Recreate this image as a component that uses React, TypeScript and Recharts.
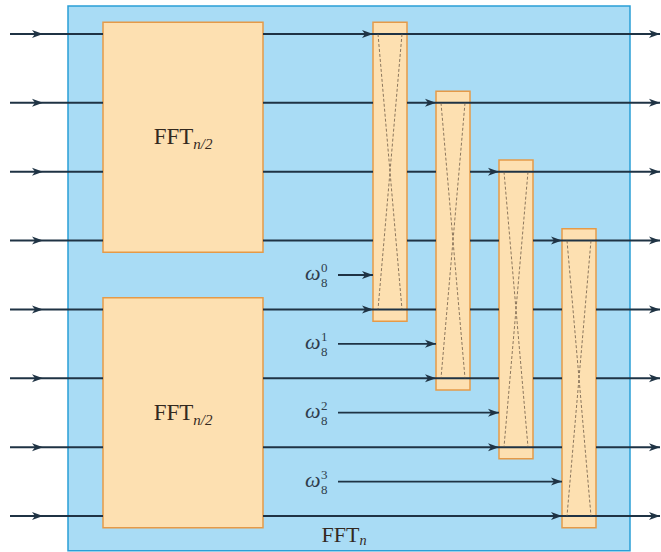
import {
  ComposedChart,
  ReferenceArea,
  ReferenceLine,
  Scatter,
  XAxis,
  YAxis,
} from "recharts";

// structure of the 8-point FFT diagram (rows are wire indices)
const rows = [0, 1, 2, 3, 4, 5, 6, 7];
const halfBlocks = [
  { first: 0, last: 3, name: "FFT", sub: "n/2" },
  { first: 4, last: 7, name: "FFT", sub: "n/2" },
];
const butterflies = [
  { top: 0, bottom: 4 },
  { top: 1, bottom: 5 },
  { top: 2, bottom: 6 },
  { top: 3, bottom: 7 },
];
const twiddlePowers = ["0", "1", "2", "3"];
const twiddleBase = "8";
const outerName = "FFT";
const outerSub = "n";

// layout (x in pixels-ish, y in row units)
const W = 661;
const H = 552;
const Y_DOMAIN: [number, number] = [-0.494, 7.523];
const FRAME = { x1: 68, x2: 630, y1: -0.407, y2: 7.505 };
const BLOCK_X = [103, 263];
const PAD = 0.17;
const BFLY_X0 = 373;
const BFLY_STEP = 63;
const BFLY_W = 34;
const IN_X = [10, 103];
const IN_TIP = 43;
const OUT_X = 660;
const TW_X = 338;
const TW_LABEL_X = 318;

const WIRE = "#1f3344";
const BLUE = "#a9dcf5";
const BLUE_EDGE = "#2a9fd6";
const PEACH = "#fde0b1";
const PEACH_EDGE = "#e59a48";

const bx = (i: number) => BFLY_X0 + i * BFLY_STEP;

// wire segments after the half-size blocks, skipping boxes they run behind
const segments: { x1: number; x2: number; y: number }[] = [];
rows.forEach((r) => {
  let start = BLOCK_X[1];
  butterflies.forEach((b, i) => {
    if (r > b.top && r < b.bottom) {
      segments.push({ x1: start, x2: bx(i), y: r });
      start = bx(i) + BFLY_W;
    }
  });
  segments.push({ x1: start, x2: OUT_X, y: r });
});

const arrowTips = [
  ...rows.map((r) => ({ x: IN_TIP, y: r })),
  ...rows.map((r) => ({ x: OUT_X, y: r })),
  ...butterflies.flatMap((b, i) => [
    { x: bx(i), y: b.top },
    { x: bx(i), y: b.bottom },
    { x: bx(i), y: b.bottom - 0.5 },
  ]),
];

const blockLabels = halfBlocks.map((h) => ({
  x: (BLOCK_X[0] + BLOCK_X[1]) / 2,
  y: (h.first + h.last) / 2,
  name: h.name,
  sub: h.sub,
  size: 23,
  drop: 5,
}));

const twiddleLabels = butterflies.map((b, i) => ({
  x: TW_LABEL_X,
  y: b.bottom - 0.5,
  power: twiddlePowers[i],
}));

const outerLabel = [
  { x: 344, y: 7.28, name: outerName, sub: outerSub, size: 22, drop: 3 },
];

const SERIF = "'Liberation Serif', 'DejaVu Serif', serif";

function Arrowhead({ cx, cy }: { cx: number; cy: number }) {
  return (
    <path
      d={`M${cx},${cy} L${cx - 11},${cy - 4} L${cx - 8},${cy} L${cx - 11},${cy + 4} Z`}
      fill={WIRE}
    />
  );
}

function BlockLabel({ cx, cy, payload }: any) {
  return (
    <text
      x={cx}
      y={cy + 7}
      textAnchor="middle"
      style={{ fontFamily: SERIF, fontSize: payload.size }}
      fill="#33291f"
    >
      {payload.name}
      <tspan
        style={{ fontSize: payload.size * 0.65, fontStyle: "italic" }}
        dy={payload.drop}
      >
        {payload.sub}
      </tspan>
    </text>
  );
}

function TwiddleLabel({ cx, cy, payload }: any) {
  return (
    <g style={{ fontFamily: SERIF }} fill="#2f3c4c">
      <text x={cx - 13} y={cy + 5} style={{ fontSize: 22, fontStyle: "italic" }}>
        ω
      </text>
      <text x={cx + 3} y={cy - 3} style={{ fontSize: 13 }}>
        {payload.power}
      </text>
      <text x={cx + 3} y={cy + 12} style={{ fontSize: 13 }}>
        {twiddleBase}
      </text>
    </g>
  );
}

export default function App() {
  return (
    <div style={{ position: "absolute", left: 0, top: 0, background: "#fff" }}>
      <ComposedChart
        width={W}
        height={H}
        margin={{ top: 0, right: 0, bottom: 0, left: 0 }}
      >
        <XAxis type="number" dataKey="x" domain={[0, W]} hide allowDataOverflow />
        <YAxis
          type="number"
          dataKey="y"
          domain={Y_DOMAIN}
          reversed
          hide
          allowDataOverflow
        />
        <ReferenceArea
          x1={FRAME.x1}
          x2={FRAME.x2}
          y1={FRAME.y1}
          y2={FRAME.y2}
          fill={BLUE}
          fillOpacity={1}
          stroke={BLUE_EDGE}
          strokeWidth={1.5}
          ifOverflow="visible"
          zIndex={10}
        />
        {halfBlocks.map((h, i) => (
          <ReferenceArea
            key={`blk${i}`}
            x1={BLOCK_X[0]}
            x2={BLOCK_X[1]}
            y1={h.first - PAD}
            y2={h.last + PAD}
            fill={PEACH}
            fillOpacity={1}
            stroke={PEACH_EDGE}
            strokeWidth={1.5}
            zIndex={20}
          />
        ))}
        {butterflies.map((b, i) => (
          <ReferenceArea
            key={`bf${i}`}
            x1={bx(i)}
            x2={bx(i) + BFLY_W}
            y1={b.top - PAD}
            y2={b.bottom + PAD}
            fill={PEACH}
            fillOpacity={1}
            stroke={PEACH_EDGE}
            strokeWidth={1.5}
            zIndex={30}
          />
        ))}
        {rows.map((r) => (
          <ReferenceLine
            key={`in${r}`}
            segment={[
              { x: IN_X[0], y: r },
              { x: IN_X[1], y: r },
            ]}
            stroke={WIRE}
            strokeWidth={2}
            zIndex={40}
          />
        ))}
        {segments.map((s, i) => (
          <ReferenceLine
            key={`seg${i}`}
            segment={[
              { x: s.x1, y: s.y },
              { x: s.x2, y: s.y },
            ]}
            stroke={WIRE}
            strokeWidth={2}
            zIndex={40}
          />
        ))}
        {butterflies.map((b, i) => (
          <ReferenceLine
            key={`tw${i}`}
            segment={[
              { x: TW_X, y: b.bottom - 0.5 },
              { x: bx(i), y: b.bottom - 0.5 },
            ]}
            stroke={WIRE}
            strokeWidth={1.8}
            zIndex={40}
          />
        ))}
        {butterflies.flatMap((b, i) => [
          <ReferenceLine
            key={`xa${i}`}
            segment={[
              { x: bx(i) + 5, y: b.top },
              { x: bx(i) + BFLY_W - 5, y: b.bottom },
            ]}
            stroke="#6e5c48"
            strokeWidth={0.8}
            strokeDasharray="3 2"
            zIndex={45}
          />,
          <ReferenceLine
            key={`xb${i}`}
            segment={[
              { x: bx(i) + BFLY_W - 5, y: b.top },
              { x: bx(i) + 5, y: b.bottom },
            ]}
            stroke="#6e5c48"
            strokeWidth={0.8}
            strokeDasharray="3 2"
            zIndex={45}
          />,
        ])}
        <Scatter
          data={arrowTips}
          isAnimationActive={false}
          shape={(p: any) => <Arrowhead cx={p.cx} cy={p.cy} />}
          zIndex={60}
        />
        <Scatter
          data={blockLabels}
          isAnimationActive={false}
          shape={(p: any) => <BlockLabel {...p} />}
          zIndex={70}
        />
        <Scatter
          data={outerLabel}
          isAnimationActive={false}
          shape={(p: any) => <BlockLabel {...p} />}
          zIndex={70}
        />
        <Scatter
          data={twiddleLabels}
          isAnimationActive={false}
          shape={(p: any) => <TwiddleLabel {...p} />}
          zIndex={70}
        />
      </ComposedChart>
    </div>
  );
}
